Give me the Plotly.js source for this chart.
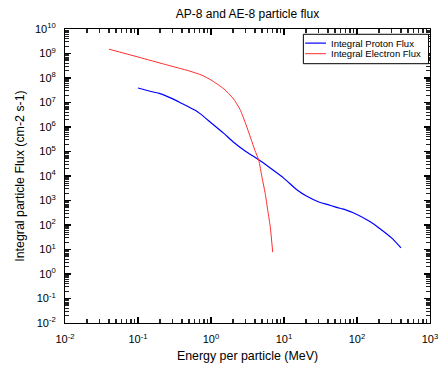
<!DOCTYPE html>
<html>
<head>
<meta charset="utf-8">
<script src="https://cdn.plot.ly/plotly-3.0.1.min.js"></script>
<style>html,body{margin:0;padding:0;background:#fff;}</style>
</head>
<body>
<div id="chart" style="width:439px;height:371px;"></div>
<script>
// AP-8 integral proton flux (MeV, cm-2 s-1)
const protonEnergy = [0.1, 0.15, 0.2, 0.3, 0.4, 0.5, 0.6, 0.7, 1, 1.5, 2, 3, 4, 5, 6, 7, 10, 15, 20, 30, 40, 50, 60, 70, 100, 150, 200, 300, 400];
const protonFlux = [3.9e7, 2.8e7, 2.3e7, 1.4e7, 9.1e6, 6.5e6, 4.9e6, 3.6e6, 1.5e6, 5.5e5, 2.5e5, 1.0e5, 5.8e4, 3.7e4, 2.5e4, 1.8e4, 8.0e3, 2.75e3, 1.55e3, 870, 680, 550, 470, 415, 270, 138, 76, 29, 11.7];
// AE-8 integral electron flux (MeV, cm-2 s-1)
const electronEnergy = [0.04, 0.1, 0.25, 0.5, 0.75, 1, 1.5, 2, 2.5, 3, 3.5, 4, 4.5, 5, 5.5, 6, 6.5, 7];
const electronFlux = [1.5e9, 7.2e8, 3.4e8, 1.95e8, 1.3e8, 8.3e7, 3.6e7, 1.5e7, 5.2e6, 1.3e6, 3.5e5, 1.1e5, 4.5e4, 8.7e3, 2.1e3, 380, 80, 7.8];
const seriesNames = ["Integral Proton Flux", "Integral Electron Flux"];
const seriesColors = ["rgb(0,0,255)", "rgb(255,45,45)"];
// tick labels
const xTickVals = [0.01, 0.1, 1, 10, 100, 1000];
const xTickText = ["10<sup>-2</sup>", "10<sup>-1</sup>", "10<sup>0</sup>", "10<sup>1</sup>", "10<sup>2</sup>", "10<sup>3</sup>"];
const yTickVals = [1e-2, 1e-1, 1, 1e1, 1e2, 1e3, 1e4, 1e5, 1e6, 1e7, 1e8, 1e9, 1e10];
const yTickText = ["10<sup>-2</sup>", "10<sup>-1</sup>", "10<sup>0</sup>", "10<sup>1</sup>", "10<sup>2</sup>", "10<sup>3</sup>", "10<sup>4</sup>", "10<sup>5</sup>", "10<sup>6</sup>", "10<sup>7</sup>", "10<sup>8</sup>", "10<sup>9</sup>", "10<sup>10</sup>"];

const FONT = "Liberation Sans, Arial, sans-serif";

const traces = [
  {x: protonEnergy, y: protonFlux, type: "scatter", mode: "lines", name: seriesNames[0],
   line: {color: seriesColors[0], width: 1.2, shape: "spline", smoothing: 0.6}},
  {x: electronEnergy, y: electronFlux, type: "scatter", mode: "lines", name: seriesNames[1],
   line: {color: seriesColors[1], width: 1, shape: "spline", smoothing: 0.6}}
];

const minorIn = {ticks: "inside", ticklen: 4, tickcolor: "#222", tickwidth: 1.2, dtick: "D1"};

const layout = {
  width: 439, height: 371,
  margin: {l: 65, r: 9, t: 29, b: 48},
  showlegend: false,
  font: {family: FONT, color: "#000"},
  title: {text: "AP-8 and AE-8 particle flux", font: {family: FONT, size: 12, color: "#000"},
          x: 0.5, xref: "paper", y: 1 - 14/371, yref: "container", yanchor: "middle"},
  xaxis: {type: "log", range: [-2, 3], tickmode: "array", tickvals: xTickVals, ticktext: xTickText,
          showline: true, linecolor: "#000", mirror: "allticks",
          ticks: "inside", ticklen: 6, tickcolor: "#000", tickwidth: 1.2, showgrid: false,
          ticklabelstandoff: 6, minor: minorIn,
          tickfont: {family: FONT, size: 11, color: "#000"},
          title: {text: "Energy per particle (MeV)", font: {family: FONT, size: 12.4, color: "#000"}, standoff: 7}},
  yaxis: {type: "log", range: [-2, 10], tickmode: "array", tickvals: yTickVals, ticktext: yTickText,
          showline: true, linecolor: "#000", mirror: "allticks",
          ticks: "inside", ticklen: 6, tickcolor: "#000", tickwidth: 1.2, showgrid: false,
          ticklabelstandoff: 6, minor: minorIn,
          tickfont: {family: FONT, size: 11, color: "#000"},
          title: {text: "Integral particle Flux (cm-2 s-1)", font: {family: FONT, size: 12.4, color: "#000"}, standoff: 7}},
  shapes: [
    {type: "rect", xref: "paper", yref: "paper", x0: 0.653, x1: 0.996, y0: 0.882, y1: 0.982,
     line: {color: "#000", width: 1}, fillcolor: "#fff", layer: "above"},
    {type: "line", xref: "paper", yref: "paper", x0: 0.658, x1: 0.715, y0: 0.952, y1: 0.952,
     line: {color: seriesColors[0], width: 1.2}, layer: "above"},
    {type: "line", xref: "paper", yref: "paper", x0: 0.658, x1: 0.715, y0: 0.916, y1: 0.916,
     line: {color: seriesColors[1], width: 1}, layer: "above"}
  ],
  annotations: [
    {xref: "paper", yref: "paper", x: 0.724, y: 0.952, xanchor: "left", yanchor: "middle",
     text: seriesNames[0], showarrow: false, font: {family: FONT, size: 9.5, color: "#000"}},
    {xref: "paper", yref: "paper", x: 0.724, y: 0.916, xanchor: "left", yanchor: "middle",
     text: seriesNames[1], showarrow: false, font: {family: FONT, size: 9.5, color: "#000"}}
  ]
};

Plotly.newPlot("chart", traces, layout, {staticPlot: true, displayModeBar: false});
</script>
</body>
</html>
